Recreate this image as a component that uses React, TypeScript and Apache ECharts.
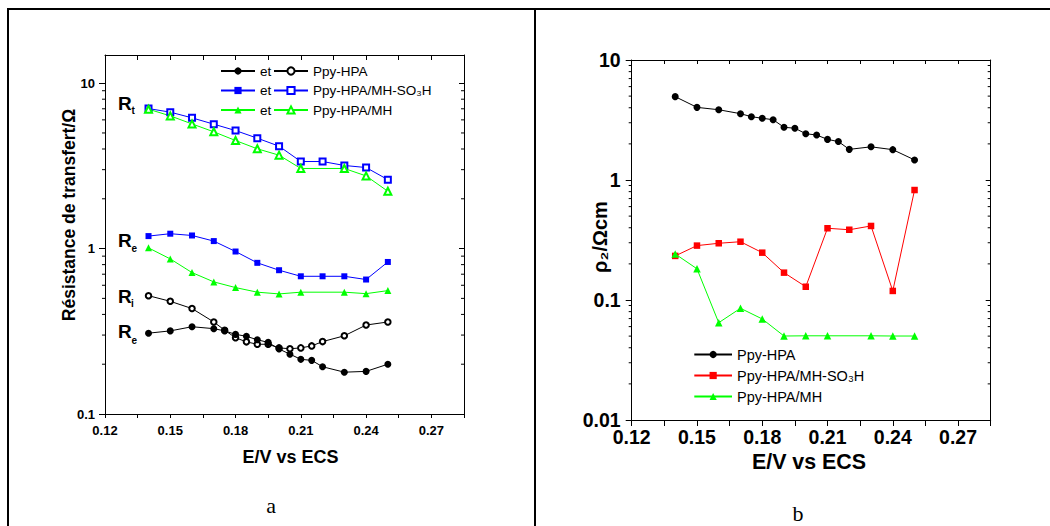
import React, { useEffect, useRef } from 'react';
import * as echarts from 'echarts';

// ---------- data ----------
const X_TICKS = ['0.12', '0.15', '0.18', '0.21', '0.24', '0.27'];
const Y_TICKS_A = ['0.1', '1', '10'];
const Y_TICKS_B = ['0.01', '0.1', '1', '10'];
const MINOR_A = [0.2, 0.3, 0.4, 0.5, 0.6, 0.7, 0.8, 0.9, 2, 3, 4, 5, 6, 7, 8, 9];
const MINOR_B = [0.02, 0.03, 0.04, 0.05, 0.06, 0.07, 0.08, 0.09, 0.2, 0.3, 0.4, 0.5, 0.6, 0.7, 0.8, 0.9, 2, 3, 4, 5, 6, 7, 8, 9];

const X_MAIN = [0.14, 0.15, 0.16, 0.17, 0.18, 0.19, 0.2, 0.21, 0.22, 0.23, 0.24, 0.25];
const X_NO22 = [0.14, 0.15, 0.16, 0.17, 0.18, 0.19, 0.2, 0.21, 0.23, 0.24, 0.25];
const X_FINE = [0.14, 0.15, 0.16, 0.17, 0.175, 0.18, 0.185, 0.19, 0.195, 0.2, 0.205, 0.21, 0.215, 0.22, 0.23, 0.24, 0.25];

// panel a : Résistance de transfert
const RE_PPY = [0.308, 0.318, 0.337, 0.328, 0.318, 0.303, 0.295, 0.281, 0.271, 0.247, 0.23, 0.214, 0.211, 0.193, 0.179, 0.181, 0.2];
const RI_PPY = [0.519, 0.48, 0.434, 0.36, 0.321, 0.289, 0.273, 0.264, 0.264, 0.251, 0.248, 0.251, 0.258, 0.274, 0.297, 0.345, 0.36];
const RE_SO3H = [1.19, 1.23, 1.2, 1.11, 0.96, 0.82, 0.74, 0.68, 0.68, 0.68, 0.65, 0.83];
const RT_SO3H = [7.02, 6.68, 6.17, 5.65, 5.17, 4.65, 4.16, 3.36, 3.36, 3.18, 3.09, 2.61];
const RE_MH = [1.01, 0.866, 0.716, 0.629, 0.581, 0.545, 0.532, 0.545, 0.545, 0.534, 0.557];
const RT_MH = [6.96, 6.34, 5.67, 5.08, 4.5, 4.01, 3.67, 3.05, 3.05, 2.75, 2.22];

// panel b : rho2
const RHO_PPY = [4.95, 4.03, 3.85, 3.57, 3.37, 3.27, 3.18, 2.75, 2.7, 2.43, 2.37, 2.18, 2.09, 1.8, 1.89, 1.79, 1.47];
const RHO_SO3H = [0.233, 0.284, 0.297, 0.306, 0.248, 0.169, 0.129, 0.396, 0.385, 0.414, 0.119, 0.825];
const RHO_MH = [0.242, 0.182, 0.0647, 0.0853, 0.0695, 0.0501, 0.0503, 0.0503, 0.0503, 0.0501, 0.0501];

// ---------- helpers ----------
const FONT = '"Liberation Sans", Arial, Helvetica, sans-serif';
const SERIF = '"Liberation Serif", "Times New Roman", serif';
const X_MIN = 0.12;
const X_MAX = 0.285;
const X_STEP = 0.015;

const pairs = (xs: number[], ys: number[]) => xs.map((x, i) => [x, ys[i]]);

const xLabel = (v: number) => {
  const k = Math.round((v - X_MIN) / X_STEP);
  if (k % 2 !== 0) return '';
  return X_TICKS[k / 2] ?? '';
};

const yLabel = (ticks: string[]) => (v: number) =>
  ticks.find((t) => Math.abs(Math.log10(Number(t)) - Math.log10(v)) < 1e-6) ?? '';

function xAxes(grid: number, fontSize: number, margin: number, botLen: number, topLen: number) {
  const line = { show: true, onZero: false, lineStyle: { color: '#000', width: 1 } };
  return [
    {
      type: 'value', gridIndex: grid, position: 'bottom', min: X_MIN, max: X_MAX, interval: X_STEP,
      axisLine: line,
      axisTick: { show: true, inside: false, length: botLen, lineStyle: { color: '#000', width: 1 } },
      axisLabel: { show: true, fontSize, fontWeight: 'bold', color: '#000', fontFamily: FONT, margin, formatter: xLabel },
      splitLine: { show: false },
    },
    {
      type: 'value', gridIndex: grid, position: 'top', min: X_MIN, max: X_MAX, interval: X_STEP,
      axisLine: line,
      axisTick: { show: true, inside: true, length: topLen, lineStyle: { color: '#000', width: 1 } },
      axisLabel: { show: false },
      splitLine: { show: false },
    },
  ];
}

function yAxes(grid: number, min: number, max: number, ticks: string[], fontSize: number, margin: number, leftLen: number, rightLen: number) {
  const line = { show: true, onZero: false, lineStyle: { color: '#000', width: 1 } };
  const vals = ticks.map(Number);
  return [
    {
      type: 'log', logBase: 10, gridIndex: grid, position: 'left', min, max,
      axisLine: line,
      axisTick: { show: true, inside: false, length: leftLen, customValues: vals, lineStyle: { color: '#000', width: 1 } },
      axisLabel: { show: true, customValues: vals, fontSize, fontWeight: 'bold', color: '#000', fontFamily: FONT, margin, formatter: yLabel(ticks) },
      splitLine: { show: false },
      minorTick: { show: false },
    },
    {
      type: 'log', logBase: 10, gridIndex: grid, position: 'right', min, max,
      axisLine: line,
      axisTick: { show: true, inside: true, length: rightLen, customValues: vals, lineStyle: { color: '#000', width: 1 } },
      axisLabel: { show: false },
      splitLine: { show: false },
      minorTick: { show: false },
    },
  ];
}

function minorTicks(xIdx: number, yIdx: number, values: number[], outLen: number, inLen: number) {
  return {
    type: 'custom', xAxisIndex: xIdx, yAxisIndex: yIdx, silent: true, clip: false, z: 3,
    encode: { x: 0, y: 1 },
    data: values.map((v) => [X_MIN, v]),
    renderItem: (_p: any, api: any) => {
      const v = api.value(1);
      const l = api.coord([X_MIN, v]);
      const r = api.coord([X_MAX, v]);
      return {
        type: 'group',
        children: [
          { type: 'line', shape: { x1: l[0] - outLen, y1: l[1], x2: l[0], y2: l[1] }, style: { stroke: '#000', lineWidth: 1 } },
          { type: 'line', shape: { x1: r[0] - inLen, y1: r[1], x2: r[0], y2: r[1] }, style: { stroke: '#000', lineWidth: 1 } },
        ],
      };
    },
  };
}

function lineSeries(name: string, xIdx: number, yIdx: number, data: number[][], color: string, symbol: string, size: number) {
  const hollow = symbol.startsWith('empty');
  return {
    type: 'line', name, xAxisIndex: xIdx, yAxisIndex: yIdx, data,
    symbol, symbolSize: size, showSymbol: true, showAllSymbol: true,
    lineStyle: { color, width: 1 },
    itemStyle: hollow ? { color, borderColor: color, borderWidth: 1 } : { color, borderWidth: 0 },
    emphasis: { disabled: true },
    z: 4,
  };
}

const SO3H = 'Ppy-HPA/MH-SO\u2083H';

export default function App() {
  const ref = useRef<HTMLDivElement>(null);

  useEffect(() => {
    if (!ref.current) return;
    const chart = echarts.init(ref.current, undefined, { renderer: 'svg' });

    const legendText = (size: number) => ({ color: '#000', fontFamily: FONT, fontSize: size, lineHeight: Math.round(size + 1) });

    const option: any = {
      animation: false,
      backgroundColor: '#fff',
      grid: [
        { left: 105, top: 55, width: 359, height: 359, containLabel: false, outerBoundsMode: 'none' },
        { left: 631.7, top: 60, width: 359, height: 360, containLabel: false, outerBoundsMode: 'none' },
      ],
      xAxis: [...xAxes(0, 13, 9.5, 4, 5), ...xAxes(1, 19.5, 7, 6, 4)],
      yAxis: [
        ...yAxes(0, 0.1, 14.8, Y_TICKS_A, 13, 10, 6, 5),
        ...yAxes(1, 0.01, 10, Y_TICKS_B, 19.5, 11, 6, 5),
      ],
      legend: [
        {
          data: ['Re Ppy-HPA', 'Re ' + SO3H, 'Re Ppy-HPA/MH'],
          orient: 'vertical', left: 220, top: 63.5, padding: 0,
          itemWidth: 34, itemHeight: 9, itemGap: 4.5, selectedMode: false,
          formatter: () => 'et', textStyle: legendText(13.5),
        },
        {
          data: ['Ri Ppy-HPA', 'Rt ' + SO3H, 'Rt Ppy-HPA/MH'],
          orient: 'vertical', left: 273, top: 63.5, padding: 0,
          itemWidth: 34, itemHeight: 9, itemGap: 4.5, selectedMode: false,
          formatter: (n: string) => n.slice(3), textStyle: legendText(13.5),
        },
        {
          data: ['Ppy-HPA', SO3H, 'Ppy-HPA/MH'],
          orient: 'vertical', left: 693.3, top: 346.5, padding: 0,
          itemWidth: 37.7, itemHeight: 9, itemGap: 5, selectedMode: false,
          textStyle: legendText(14.5),
        },
      ],
      series: [
        minorTicks(0, 0, MINOR_A, 3, 3),
        minorTicks(2, 2, MINOR_B, 3, 3),
        lineSeries('Rt ' + SO3H, 0, 0, pairs(X_MAIN, RT_SO3H), '#0000ff', 'emptyRect', 6),
        lineSeries('Rt Ppy-HPA/MH', 0, 0, pairs(X_NO22, RT_MH), '#00ff00', 'emptyTriangle', 7),
        lineSeries('Re ' + SO3H, 0, 0, pairs(X_MAIN, RE_SO3H), '#0000ff', 'rect', 6),
        lineSeries('Re Ppy-HPA/MH', 0, 0, pairs(X_NO22, RE_MH), '#00ff00', 'triangle', 7),
        lineSeries('Ri Ppy-HPA', 0, 0, pairs(X_FINE, RI_PPY), '#000000', 'emptyCircle', 5.5),
        lineSeries('Re Ppy-HPA', 0, 0, pairs(X_FINE, RE_PPY), '#000000', 'circle', 7),
        lineSeries('Ppy-HPA', 2, 2, pairs(X_FINE, RHO_PPY), '#000000', 'circle', 7),
        lineSeries(SO3H, 2, 2, pairs(X_MAIN, RHO_SO3H), '#ff0000', 'rect', 6.5),
        lineSeries('Ppy-HPA/MH', 2, 2, pairs(X_NO22, RHO_MH), '#00ff00', 'triangle', 7.5),
      ],
      graphic: [
        // frame
        { type: 'rect', shape: { x: 7, y: 8, width: 1043, height: 2 }, style: { fill: '#000' }, silent: true },
        { type: 'rect', shape: { x: 7, y: 8, width: 2, height: 518 }, style: { fill: '#000' }, silent: true },
        { type: 'rect', shape: { x: 534, y: 8, width: 2, height: 518 }, style: { fill: '#000' }, silent: true },
        // panel a titles
        {
          type: 'text', x: 68.5, y: 215, rotation: Math.PI / 2,
          style: { text: 'Résistance de transfert/Ω', font: `bold 17.5px ${FONT}`, fill: '#000', align: 'center', verticalAlign: 'middle' },
        },
        {
          type: 'text', x: 290.5, y: 457,
          style: { text: 'E/V vs ECS', font: `bold 18px ${FONT}`, fill: '#000', align: 'center', verticalAlign: 'middle' },
        },
        // R labels
        { type: 'text', x: 118, y: 103.3, style: { text: 'R', font: `bold 19px ${FONT}`, fill: '#000', align: 'left', verticalAlign: 'middle' } },
        { type: 'text', x: 131.5, y: 110.8, style: { text: 't', font: `bold 10px ${FONT}`, fill: '#000', align: 'left', verticalAlign: 'middle' } },
        { type: 'text', x: 118, y: 240, style: { text: 'R', font: `bold 19px ${FONT}`, fill: '#000', align: 'left', verticalAlign: 'middle' } },
        { type: 'text', x: 131.5, y: 248.6, style: { text: 'e', font: `bold 10px ${FONT}`, fill: '#000', align: 'left', verticalAlign: 'middle' } },
        { type: 'text', x: 118, y: 296.7, style: { text: 'R', font: `bold 19px ${FONT}`, fill: '#000', align: 'left', verticalAlign: 'middle' } },
        { type: 'text', x: 131, y: 303, style: { text: 'i', font: `bold 10px ${FONT}`, fill: '#000', align: 'left', verticalAlign: 'middle' } },
        { type: 'text', x: 118, y: 331.7, style: { text: 'R', font: `bold 19px ${FONT}`, fill: '#000', align: 'left', verticalAlign: 'middle' } },
        { type: 'text', x: 131.5, y: 340.3, style: { text: 'e', font: `bold 10px ${FONT}`, fill: '#000', align: 'left', verticalAlign: 'middle' } },
        // panel b titles
        {
          type: 'text', x: 600, y: 237, rotation: Math.PI / 2,
          style: { text: 'ρ\u2082/Ωcm', font: `bold 20px ${FONT}`, fill: '#000', align: 'center', verticalAlign: 'middle' },
        },
        {
          type: 'text', x: 809, y: 461.7,
          style: { text: 'E/V vs ECS', font: `bold 21.4px ${FONT}`, fill: '#000', align: 'center', verticalAlign: 'middle' },
        },
        // panel letters
        { type: 'text', x: 271, y: 505, style: { text: 'a', font: `22px ${SERIF}`, fill: '#000', align: 'center', verticalAlign: 'middle' } },
        { type: 'text', x: 798, y: 513, style: { text: 'b', font: `22px ${SERIF}`, fill: '#000', align: 'center', verticalAlign: 'middle' } },
      ],
    };

    chart.setOption(option);
    return () => chart.dispose();
  }, []);

  return (
    <div
      ref={ref}
      style={{ position: 'fixed', left: 0, top: 0, width: 1050, height: 526, background: '#fff' }}
    />
  );
}
